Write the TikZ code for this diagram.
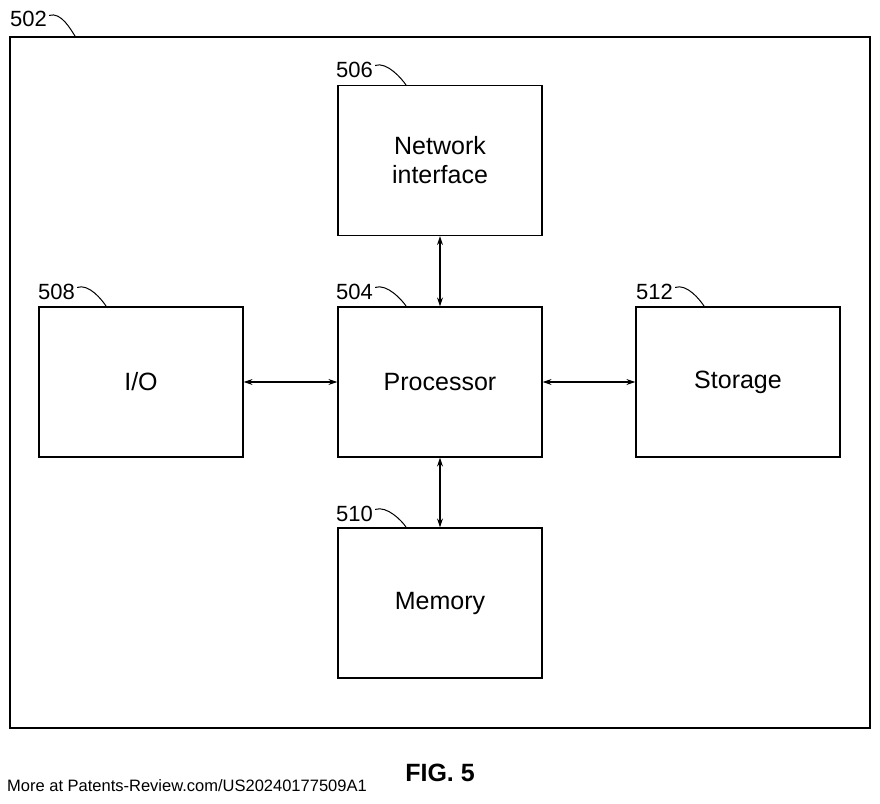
\documentclass[tikz,border=0pt]{standalone}
\usepackage{fontspec}
\setmainfont{Liberation Sans}
\usetikzlibrary{arrows.meta}
\begin{document}
\begin{tikzpicture}[x=1pt,y=-1pt,
 box/.style={draw,line width=1.2pt,minimum width=204pt,minimum height=150pt,inner sep=0pt,align=center,font=\fontsize{25}{29}\selectfont},
 lab/.style={font=\fontsize{22}{26}\selectfont,anchor=base west,inner sep=0pt},
 curl/.style={line width=1pt},
 conn/.style={line width=1.2pt,{Stealth[length=9pt,width=6pt]}-{Stealth[length=9pt,width=6pt]}}]
\useasboundingbox (0,0) rectangle (880,803);
\draw[line width=1.4pt] (10,37) rectangle (870,728);
\node[box] (net) at (440,160.5) {Network\\interface};
\node[box] (proc) at (440,382) {Processor};
\node[box] (io) at (141,382) {I/O};
\node[box] (sto) at (738,382) {Storage};
\node[box] (mem) at (440,603) {Memory};
\node[lab] (l502) at (10,27) {502};
\node[lab] (l506) at (336,77) {506};
\node[lab] (l504) at (336,299) {504};
\node[lab] (l508) at (38,299) {508};
\node[lab] (l512) at (636,299) {512};
\node[lab] (l510) at (336,521) {510};
\draw[curl] (l502.east) ++(2,-4) .. controls +(12,-4) and +(-4,-6) .. (75,36);
\draw[curl] (l506.east) ++(2,-4) .. controls +(12,-4) and +(-4,-6) .. (406,85);
\draw[curl] (l504.east) ++(2,-4) .. controls +(12,-4) and +(-4,-6) .. (406,306);
\draw[curl] (l508.east) ++(2,-4) .. controls +(12,-4) and +(-4,-6) .. (106,306);
\draw[curl] (l512.east) ++(2,-4) .. controls +(12,-4) and +(-4,-6) .. (704,306);
\draw[curl] (l510.east) ++(2,-4) .. controls +(12,-4) and +(-4,-6) .. (406,527);
\draw[conn] (net) -- (proc);
\draw[conn] (proc) -- (mem);
\draw[conn] (io) -- (proc);
\draw[conn] (proc) -- (sto);
\node[font=\bfseries\fontsize{25}{29}\selectfont] (fig) at (440,773) {FIG. 5};
\node[anchor=base west,inner sep=0pt,font=\fontsize{16.5}{20}\selectfont] (src) at (7,791) {More at Patents-Review.com/US20240177509A1};
\end{tikzpicture}
\end{document}
